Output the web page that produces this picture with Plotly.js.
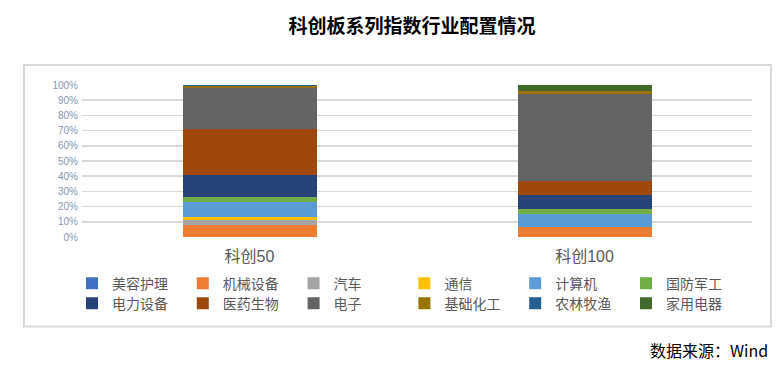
<!DOCTYPE html>
<html>
<head>
<meta charset="utf-8">
<script src="https://cdn.plot.ly/plotly-3.0.1.min.js"></script>
<style>html,body{margin:0;padding:0;background:#fff;}#chart{width:781px;height:372px;}</style>
</head>
<body>
<div id="chart"></div>
<script>
// ---- data ----
const categories = ['科创50', '科创100'];
const industries = ['美容护理', '机械设备', '汽车', '通信', '计算机', '国防军工',
                    '电力设备', '医药生物', '电子', '基础化工', '农林牧渔', '家用电器'];
const kc50Weights  = [0, 7.7, 3.3, 1.9, 9.9, 3.3, 14.5, 30.5, 26.9, 1.4, 0.6, 0];
const kc100Weights = [0, 6.6, 0, 0, 8.3, 3.3, 9.4, 9.2, 57.5, 1.5, 0, 4.2];
const yTickValues = [0, 10, 20, 30, 40, 50, 60, 70, 80, 90, 100];
const yTickLabels = ['0%', '10%', '20%', '30%', '40%', '50%', '60%', '70%', '80%', '90%', '100%'];
const sourceText = '数据来源：Wind';
const titleText = '科创板系列指数行业配置情况';

// ---- styles ----
const seriesColors = ['#4472C4', '#ED7D31', '#A5A5A5', '#FFC000', '#5B9BD5', '#70AD47',
                      '#264478', '#9E480E', '#636363', '#997300', '#255E91', '#43682B'];
const FONT = 'Liberation Sans, Arial, Noto Sans CJK SC, sans-serif';
const CJK = 'Noto Sans CJK SC, sans-serif';

const W = 781, H = 372;
const L = 82, R = 752, T = 85, B = 237;
const pw = R - L, ph = B - T;
const px = x => (x - L) / pw;
const py = y => (B - y) / ph;

const traces = industries.map((name, i) => ({
  type: 'bar',
  name: name,
  x: categories,
  y: [kc50Weights[i], kc100Weights[i]],
  marker: {color: seriesColors[i], line: {width: 0}},
  width: 0.4,
  legend: i < 6 ? 'legend' : 'legend2',
  hoverinfo: 'skip'
}));

const legendCommon = {
  orientation: 'h',
  xanchor: 'left',
  yanchor: 'top',
  entrywidth: 65.8,
  entrywidthmode: 'pixels',
  itemwidth: 30,
  font: {family: CJK, size: 14, color: '#595959'},
  bgcolor: 'rgba(0,0,0,0)',
  borderwidth: 0,
  traceorder: 'normal'
};

const layout = {
  width: W, height: H,
  margin: {l: L, r: W - R, t: T, b: H - B, autoexpand: false},
  paper_bgcolor: '#fff', plot_bgcolor: '#fff',
  font: {family: FONT, color: '#595959'},
  barmode: 'stack',
  showlegend: true,
  title: {
    text: '<b>' + titleText + '</b>',
    font: {family: CJK, size: 19, color: '#000'},
    x: 412 / W, xanchor: 'center', xref: 'container',
    y: 1 - 26.7 / H, yanchor: 'middle', yref: 'container'
  },
  xaxis: {
    type: 'category',
    showgrid: false, zeroline: false, showline: false,
    ticks: '',
    ticklabelstandoff: 8,
    tickfont: {family: FONT, size: 16, color: '#595959'}
  },
  yaxis: {
    range: [0, 100],
    tickmode: 'array',
    tickvals: yTickValues,
    ticktext: yTickLabels,
    showgrid: true, gridcolor: '#d9d9d9', gridwidth: 1.6,
    zeroline: false, showline: false,
    ticks: '',
    ticklabelstandoff: 3,
    tickfont: {family: FONT, size: 10, color: '#8497B0'}
  },
  legend: Object.assign({}, legendCommon, {x: px(72), y: py(283.3 - 15.6)}),
  legend2: Object.assign({}, legendCommon, {x: px(72), y: py(303.3 - 15.6)}),
  shapes: [{
    type: 'rect', xref: 'paper', yref: 'paper',
    x0: px(24), x1: px(771), y0: py(326.5), y1: py(65),
    line: {color: '#d9d9d9', width: 2}, fillcolor: 'rgba(0,0,0,0)', layer: 'below'
  }],
  annotations: [{
    text: sourceText, xref: 'paper', yref: 'paper',
    x: px(770), y: py(350), xanchor: 'right', yanchor: 'middle',
    showarrow: false, font: {family: CJK, size: 16, color: '#000'}
  }],
  hovermode: false
};

Plotly.newPlot('chart', traces, layout, {displayModeBar: false, staticPlot: true});
</script>
</body>
</html>
